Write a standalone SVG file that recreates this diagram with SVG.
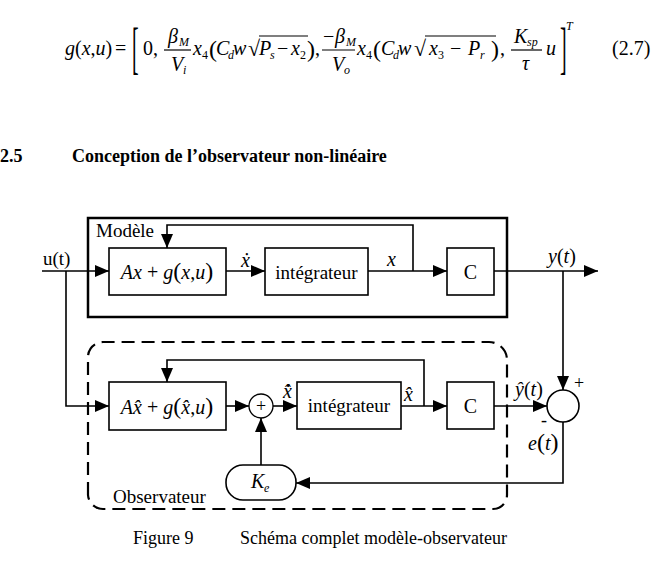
<svg xmlns="http://www.w3.org/2000/svg" width="657" height="573" viewBox="0 0 657 573">
  <style>
    text { font-family: "Liberation Serif", "Times New Roman", serif; fill: #000; }
    .it { font-style: italic; }
    .m { font-size: 20px; }
    .lbl { font-size: 19px; }
    .sub { font-size: 12px; }
    .bar { stroke: #000; stroke-width: 1.2; }
    .blk { fill: #fff; stroke: #000; stroke-width: 1.6; }
    .ln { fill: none; stroke: #000; stroke-width: 1.6; }
    .arr { marker-end: url(#ah); }
  </style>
  <defs>
    <marker id="ah" markerUnits="userSpaceOnUse" viewBox="0 0 14 12" refX="14" refY="6" markerWidth="14" markerHeight="12" orient="auto">
      <path d="M0,0 L14,6 L0,12 z" fill="#000"/>
    </marker>
  </defs>
  <rect width="657" height="573" fill="#fff"/>

  <!-- equation (2.7) -->
  <g id="equation">
    <text x="65" y="55" class="m"><tspan class="it">g</tspan>(<tspan class="it">x</tspan>,<tspan class="it">u</tspan>)</text>
    <text x="115" y="55" class="m">=</text>
    <text class="m" transform="translate(132,67) scale(1,2.8)">[</text>
    <text x="143" y="55" class="m">0,</text>
    <!-- beta_M / V_i -->
    <line class="bar" x1="164" y1="50" x2="191" y2="50"/>
    <text x="168" y="43" class="m it">β</text><text x="179" y="46" class="sub it">M</text>
    <text x="171" y="71" class="m it">V</text><text x="183" y="74" class="sub it">i</text>
    <text x="193" y="55" class="m it">x</text><text x="202" y="59" class="sub">4</text>
    <text x="209" y="57" font-size="24">(</text>
    <text x="216" y="55" class="m it">C</text><text x="228" y="59" class="sub it">d</text>
    <text x="233" y="55" class="m it">w</text>
    <text x="248" y="56" font-size="22">√</text>
    <line class="bar" x1="259" y1="36" x2="308" y2="36"/>
    <text x="259" y="55" class="m it">P</text><text x="270" y="59" class="sub it">s</text>
    <text x="277" y="55" class="m">−</text>
    <text x="291" y="55" class="m it">x</text><text x="300" y="59" class="sub">2</text>
    <text x="307" y="57" font-size="24">)</text>
    <text x="315" y="55" class="m">,</text>
    <!-- -beta_M / V_o -->
    <line class="bar" x1="322" y1="50" x2="355" y2="50"/>
    <text x="323" y="43" class="m">−</text>
    <text x="335" y="43" class="m it">β</text><text x="346" y="46" class="sub it">M</text>
    <text x="332" y="71" class="m it">V</text><text x="344" y="74" class="sub it">o</text>
    <text x="357" y="55" class="m it">x</text><text x="366" y="59" class="sub">4</text>
    <text x="373" y="57" font-size="24">(</text>
    <text x="381" y="55" class="m it">C</text><text x="393" y="59" class="sub it">d</text>
    <text x="398" y="55" class="m it">w</text>
    <text x="414" y="56" font-size="22">√</text>
    <line class="bar" x1="425" y1="36" x2="496" y2="36"/>
    <text x="429" y="55" class="m it">x</text><text x="438" y="59" class="sub">3</text>
    <text x="450" y="55" class="m">−</text>
    <text x="468" y="55" class="m it">P</text><text x="480" y="59" class="sub it">r</text>
    <text x="491" y="57" font-size="24">)</text>
    <text x="500" y="55" class="m">,</text>
    <!-- K_sp / tau -->
    <line class="bar" x1="511" y1="50" x2="542" y2="50"/>
    <text x="514" y="43" class="m it">K</text><text x="527" y="46" class="sub it">sp</text>
    <text x="522" y="70" class="m it">τ</text>
    <text x="546" y="55" class="m it">u</text>
    <text class="m" transform="translate(560,67) scale(1,2.8)">]</text>
    <text x="566" y="30" class="sub it">T</text>
    <text x="612" y="55" class="m">(2.7)</text>
  </g>

  <!-- section heading -->
  <g id="heading" font-weight="bold" font-size="18">
    <text x="0" y="162">2.5</text>
    <text x="72" y="162">Conception de l’observateur non-linéaire</text>
  </g>

  <!-- connectors -->
  <g id="connectors">
    <path class="ln arr" d="M42,271 H109"/>
    <path class="ln arr" d="M66,271 V406 H109"/>
    <path class="ln arr" d="M226,271 H265"/>
    <path class="ln arr" d="M368,271 H447"/>
    <path class="ln arr" d="M413,271 V225 H167 V248"/>
    <path class="ln arr" d="M494,271 H598"/>
    <path class="ln arr" d="M563,271 V390"/>
    <path class="ln arr" d="M226,406 H249"/>
    <path class="ln arr" d="M273,406 H297"/>
    <path class="ln arr" d="M401,406 H447"/>
    <path class="ln arr" d="M424,406 V360 H167 V382"/>
    <path class="ln arr" d="M494,406 H547"/>
    <path class="ln arr" d="M563,422 V483 H296"/>
    <path class="ln arr" d="M261,465 V418"/>
  </g>

  <!-- model -->
  <g id="model">
    <rect x="88" y="218" width="419" height="99" fill="none" stroke="#000" stroke-width="2.5"/>
    <text x="96" y="237" class="lbl">Modèle</text>
  </g>
  <g id="model-f">
    <rect class="blk" x="109" y="248" width="117" height="47"/>
    <text x="167" y="279" class="m" text-anchor="middle"><tspan class="it">Ax</tspan> + <tspan class="it">g</tspan><tspan font-size="24">(</tspan><tspan class="it">x</tspan>,<tspan class="it">u</tspan><tspan font-size="24">)</tspan></text>
  </g>
  <g id="model-int">
    <rect class="blk" x="265" y="248" width="103" height="47"/>
    <text x="316.5" y="279" class="lbl" text-anchor="middle">intégrateur</text>
  </g>
  <g id="model-c">
    <rect class="blk" x="447" y="248" width="47" height="47"/>
    <text x="470.5" y="279" class="m" text-anchor="middle">C</text>
  </g>

  <!-- observer -->
  <g id="observer">
    <path d="M88,495 V357 A15,15 0 0 1 103,342 H489 A18,18 0 0 1 507,360 V495 A14,14 0 0 1 493,509 H103 A15,15 0 0 1 88,495" fill="none" stroke="#000" stroke-width="2.2" stroke-dasharray="13 7"/>
    <text x="113" y="503" class="lbl">Observateur</text>
  </g>
  <g id="observer-f">
    <rect class="blk" x="109" y="382" width="117" height="48"/>
    <text x="167" y="414" class="m" text-anchor="middle"><tspan class="it">Ax̂</tspan> + <tspan class="it">g</tspan><tspan font-size="24">(</tspan><tspan class="it">x̂</tspan>,<tspan class="it">u</tspan><tspan font-size="24">)</tspan></text>
  </g>
  <g id="sum-obs">
    <circle cx="261" cy="406" r="12" fill="#fff" stroke="#000" stroke-width="1.3"/>
    <text x="261" y="412" font-size="18" text-anchor="middle">+</text>
  </g>
  <g id="observer-int">
    <rect class="blk" x="297" y="382" width="104" height="47"/>
    <text x="349" y="412" class="lbl" text-anchor="middle">intégrateur</text>
  </g>
  <g id="observer-c">
    <rect class="blk" x="447" y="382" width="47" height="47"/>
    <text x="470.5" y="413" class="m" text-anchor="middle">C</text>
  </g>
  <g id="sum-err">
    <circle cx="563" cy="406" r="16" fill="#fff" stroke="#000" stroke-width="1.6"/>
    <text x="574" y="389" font-size="18">+</text>
    <text x="541" y="426" font-size="18">-</text>
  </g>
  <g id="gain-ke">
    <rect class="blk" x="226" y="465" width="70" height="35" rx="17" ry="17"/>
    <text x="251" y="488" class="m it">K</text><text x="264" y="492" class="sub it">e</text>
  </g>

  <!-- signal labels -->
  <g id="labels">
    <text x="43" y="265" class="lbl">u(t)</text>
    <text x="241" y="267" class="m it">ẋ</text>
    <text x="387" y="266" class="m it">x</text>
    <text x="548" y="263" class="m"><tspan class="it">y</tspan>(<tspan class="it">t</tspan>)</text>
    <text x="283" y="398" class="m it">x̂̇</text>
    <text x="404" y="401" class="m it">x̂</text>
    <text x="515" y="396" class="m"><tspan class="it">ŷ</tspan>(<tspan class="it">t</tspan>)</text>
    <text x="528" y="450" class="m"><tspan class="it">e</tspan><tspan font-size="24">(</tspan><tspan class="it">t</tspan><tspan font-size="24">)</tspan></text>
  </g>

  <!-- caption -->
  <g id="caption" font-size="18">
    <text x="133" y="544">Figure 9</text>
    <text x="240" y="544">Schéma complet modèle-observateur</text>
  </g>
</svg>
